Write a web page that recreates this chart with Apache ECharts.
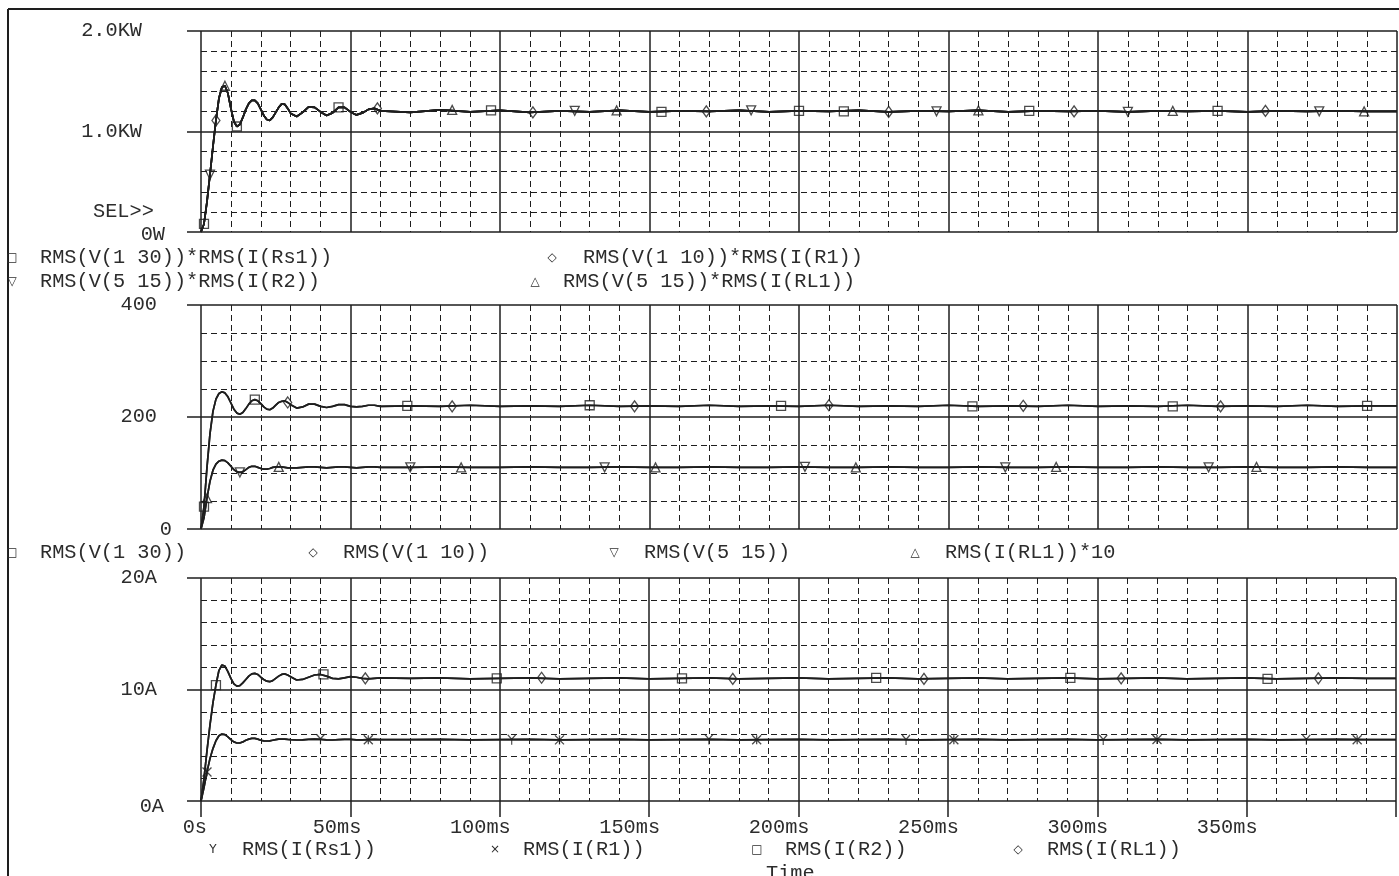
<!DOCTYPE html>
<html lang="en">
<head>
<meta charset="UTF-8">
<title>RMS power, voltage and current</title>
<script src="https://cdn.jsdelivr.net/npm/echarts@6/dist/echarts.min.js"></script>
<style>
  html, body { margin: 0; padding: 0; background: #fff; }
  #main { width: 1399px; height: 876px; }
</style>
</head>
<body>
<div id="main"></div>
<script>
// ---- data ----
// time in ms
const timeMs = [
  0, 1, 2, 3, 4, 5, 6, 7, 8, 9, 10, 11, 12, 13, 14, 15, 16, 17, 18, 19, 20,
  21, 22, 23, 24, 25, 26, 27, 28, 29, 30,
  32, 34, 36, 38, 40, 42, 44, 46, 48, 50, 52, 54, 56, 58, 60,
  70, 80, 90, 100, 110, 120, 130, 140, 150, 160, 170, 180, 190, 200, 210, 220,
  230, 240, 250, 260, 270, 280, 290, 300, 310, 320, 330, 340, 350, 360, 370,
  380, 390, 400
];

// top panel: the four power traces lie on top of each other (W)
const powerW = [
  0, 80, 300, 570, 850, 1110, 1330, 1440, 1455, 1380, 1230, 1100, 1050, 1070,
  1140, 1220, 1280, 1310, 1310, 1280, 1220, 1160, 1120, 1110, 1140, 1190, 1240,
  1275, 1270, 1230, 1180,
  1150, 1190, 1245, 1240, 1195, 1160, 1185, 1240, 1240, 1195, 1165, 1185, 1220, 1230, 1205,
  1190, 1215, 1195, 1210, 1190, 1205, 1195, 1210, 1195, 1205, 1200, 1210, 1195,
  1205, 1200, 1210, 1195, 1205, 1200, 1210, 1195, 1205, 1200, 1205, 1195, 1205,
  1200, 1205, 1195, 1205, 1200, 1205, 1200, 1200
];

// middle panel (V)
const vHigh = [
  0, 40, 110, 170, 210, 232, 242, 245, 243, 236, 225, 214, 207, 205, 208, 215,
  223, 229, 231, 229, 224, 218, 214, 213, 216, 221, 226, 228, 229, 226, 222,
  216, 218, 223, 223, 219, 217, 219, 222, 222, 219, 218, 219, 221, 221, 219,
  220, 219, 221, 219, 220, 219, 221, 219, 220, 219, 221, 219, 220, 219, 221,
  219, 220, 219, 221, 219, 220, 219, 221, 219, 220, 219, 221, 219, 220, 219,
  221, 219, 220, 220
];
const vLow = [
  0, 20, 55, 85, 105, 116, 121, 123, 122, 118, 112, 106, 102, 101, 102, 106,
  110, 112, 112, 110, 108, 107, 107, 108, 110, 111, 111, 111, 110, 109, 109,
  109, 110, 111, 111, 110, 109, 110, 111, 111, 110, 109, 110, 111, 111, 110,
  110, 111, 110, 110, 111, 110, 110, 111, 110, 110, 111, 110, 110, 111, 110,
  110, 111, 110, 110, 111, 110, 110, 111, 110, 110, 111, 110, 110, 111, 110,
  110, 111, 110, 110
];

// bottom panel (A)
const iHigh = [
  0, 2.0, 4.5, 6.8, 8.8, 10.4, 11.7, 12.2, 12.1, 11.6, 11.0, 10.5, 10.3, 10.35,
  10.6, 10.9, 11.2, 11.4, 11.45, 11.35, 11.1, 10.9, 10.75, 10.7, 10.8, 11.0,
  11.2, 11.35, 11.4, 11.3, 11.15,
  10.85, 10.9, 11.1, 11.3, 11.35, 11.2, 11.0, 10.95, 11.05, 11.15, 11.1, 11.0, 10.95, 11.0, 11.05,
  11.0, 11.05, 10.95, 11.0, 11.05, 10.95, 11.0, 11.05, 10.95, 11.0, 11.05, 10.95,
  11.0, 11.05, 10.95, 11.0, 11.05, 10.95, 11.0, 11.05, 10.95, 11.0, 11.05, 10.95,
  11.0, 11.05, 10.95, 11.0, 11.05, 10.95, 11.0, 11.05, 11.0, 11.0
];
const iLow = [
  0, 1.2, 2.6, 3.8, 4.7, 5.4, 5.85, 6.0, 5.95, 5.75, 5.5, 5.3, 5.2, 5.2, 5.3,
  5.45, 5.55, 5.62, 5.62, 5.55, 5.45, 5.4, 5.38, 5.4, 5.45, 5.5, 5.55, 5.56,
  5.55, 5.52, 5.5,
  5.47, 5.48, 5.52, 5.55, 5.53, 5.49, 5.47, 5.5, 5.53, 5.52, 5.49, 5.48, 5.5, 5.52, 5.5,
  5.5, 5.52, 5.48, 5.5, 5.52, 5.48, 5.5, 5.52, 5.48, 5.5, 5.52, 5.48, 5.5, 5.52,
  5.48, 5.5, 5.52, 5.48, 5.5, 5.52, 5.48, 5.5, 5.52, 5.48, 5.5, 5.52, 5.48, 5.5,
  5.52, 5.48, 5.5, 5.52, 5.5, 5.5
];

// marker times (ms) for each trace
const mkTopSq = [1, 12, 46, 97, 154, 200, 215, 277, 340];
const mkTopDia = [5, 59, 111, 169, 230, 292, 356];
const mkTopDn = [3, 125, 184, 246, 310, 374];
const mkTopUp = [8, 84, 139, 260, 325, 389];
const mkMidSq = [1, 18, 69, 130, 194, 258, 325, 390];
const mkMidDia = [29, 84, 145, 210, 275, 341];
const mkMidDn = [13, 70, 135, 202, 269, 337];
const mkMidUp = [2, 26, 87, 152, 219, 286, 353];
const mkBotSq = [5, 41, 99, 161, 226, 291, 357];
const mkBotDia = [55, 114, 178, 242, 308, 374];
const mkBotY = [40, 104, 170, 236, 302, 370];
const mkBotX = [2, 56, 120, 186, 252, 320, 387];

// names and tick labels
const topNames = ['RMS(V(1 30))*RMS(I(Rs1))', 'RMS(V(1 10))*RMS(I(R1))',
  'RMS(V(5 15))*RMS(I(R2))', 'RMS(V(5 15))*RMS(I(RL1))'];
const midNames = ['RMS(V(1 30))', 'RMS(V(1 10))', 'RMS(V(5 15))', 'RMS(I(RL1))*10'];
const botNames = ['RMS(I(Rs1))', 'RMS(I(R1))', 'RMS(I(R2))', 'RMS(I(RL1))'];
const topTicks = ['0W', '1.0KW', '2.0KW'];
const midTicks = ['0', '200', '400'];
const botTicks = ['0A', '10A', '20A'];
const timeTicks = ['0s', '50ms', '100ms', '150ms', '200ms', '250ms', '300ms', '350ms', ''];

// ---- chart ----
const FONT = '"Liberation Mono", "DejaVu Sans Mono", monospace';
const FS = 20.3;
const INK = '#1e1e1e';
const TXT = '#2c2c2c';

const chart = echarts.init(document.getElementById('main'));

function pairs(vals) {
  return timeMs.map((t, i) => [t, vals[i]]);
}
function nearest(t) {
  let best = 0;
  timeMs.forEach((x, i) => { if (Math.abs(x - t) < Math.abs(timeMs[best] - t)) best = i; });
  return best;
}

const SYM = {
  sq: { symbol: 'rect', symbolSize: 9 },
  dia: { symbol: 'diamond', symbolSize: [8, 11] },
  dn: { symbol: 'triangle', symbolSize: 9, symbolRotate: 180 },
  up: { symbol: 'triangle', symbolSize: 9 },
  y: { symbol: 'path://M0,0L5,5L10,0M5,5L5,11', symbolSize: [8, 10] },
  x: { symbol: 'path://M0,0L10,10M10,0L0,10M5,0L5,10', symbolSize: 9 }
};

const series = [];
function addTrace(name, vals, marks, sym, g) {
  series.push({
    name: name, type: 'line', xAxisIndex: g, yAxisIndex: g,
    data: pairs(vals), showSymbol: false, symbol: 'none',
    lineStyle: { color: INK, width: 1.7 }, animation: false, silent: true
  });
  series.push(Object.assign({
    name: name, type: 'scatter', xAxisIndex: g, yAxisIndex: g,
    data: marks.map(t => [t, vals[nearest(t)]]),
    itemStyle: { color: 'rgba(0,0,0,0)', borderColor: INK, borderWidth: 1.3 },
    animation: false, silent: true
  }, SYM[sym]));
}

addTrace(topNames[0], powerW, mkTopSq, 'sq', 0);
addTrace(topNames[1], powerW, mkTopDia, 'dia', 0);
addTrace(topNames[2], powerW, mkTopDn, 'dn', 0);
addTrace(topNames[3], powerW, mkTopUp, 'up', 0);
addTrace(midNames[0], vHigh, mkMidSq, 'sq', 1);
addTrace(midNames[1], vHigh, mkMidDia, 'dia', 1);
addTrace(midNames[2], vLow, mkMidDn, 'dn', 1);
addTrace(midNames[3], vLow, mkMidUp, 'up', 1);
addTrace(botNames[0], iLow, mkBotY, 'y', 2);
addTrace(botNames[1], iLow, mkBotX, 'x', 2);
addTrace(botNames[2], iHigh, mkBotSq, 'sq', 2);
addTrace(botNames[3], iHigh, mkBotDia, 'dia', 2);

const minorStyle = { color: INK, width: 1, type: [6, 4] };
const majorStyle = { color: INK, width: 1.5 };

function xAxisFor(g) {
  const last = g === 2;
  return {
    type: 'value', gridIndex: g, min: 0, max: 400, interval: 50,
    axisLine: { show: false },
    axisTick: { show: last, length: 16, lineStyle: majorStyle },
    axisLabel: {
      show: last, margin: 17, align: 'right',
      fontFamily: FONT, fontSize: FS, color: TXT,
      formatter: v => {
        const s = timeTicks[Math.round(v / 50)];
        return s ? (v === 0 ? '{z|' + s + '}' : '{m|' + s + '}') : '';
      },
      rich: {
        z: { fontFamily: FONT, fontSize: FS, color: TXT, padding: [0, -6, 0, 0] },
        m: { fontFamily: FONT, fontSize: FS, color: TXT, padding: [0, -11, 0, 0] }
      }
    },
    splitLine: { show: true, lineStyle: majorStyle },
    minorTick: { show: false, splitNumber: 5 },
    minorSplitLine: { show: true, lineStyle: minorStyle }
  };
}

function yAxisFor(g, max, interval, minor, ticks, margin, padMajor, padZeroTop) {
  return {
    type: 'value', gridIndex: g, min: 0, max: max, interval: interval,
    axisLine: { show: false },
    axisTick: { show: true, length: 14, lineStyle: majorStyle },
    axisLabel: {
      margin: margin, fontFamily: FONT, fontSize: FS, color: TXT,
      formatter: v => {
        const s = ticks[Math.round(v / interval)];
        return v === 0 ? '{z|' + s + '}' : '{m|' + s + '}';
      },
      rich: {
        z: { fontFamily: FONT, fontSize: FS, color: TXT, padding: [padZeroTop, 0, 0, 0] },
        m: { fontFamily: FONT, fontSize: FS, color: TXT, padding: [0, padMajor, 0, 0] }
      }
    },
    splitLine: { show: true, lineStyle: majorStyle },
    minorTick: { show: false, splitNumber: minor },
    minorSplitLine: { show: true, lineStyle: minorStyle }
  };
}

// frame, cursor text, axis title and legend rows
const graphics = [
  { type: 'line', shape: { x1: 8, y1: 9, x2: 1399, y2: 9 }, style: { stroke: INK, lineWidth: 2 } },
  { type: 'line', shape: { x1: 8, y1: 9, x2: 8, y2: 876 }, style: { stroke: INK, lineWidth: 2 } },
  { type: 'text', left: 93, top: 202, style: { text: 'SEL>>', font: FS + 'px ' + FONT, fill: TXT } },
  { type: 'text', left: 766, top: 864, style: { text: 'Time', font: FS + 'px ' + FONT, fill: TXT } }
];
function legendItem(sym, sx, name, tx, y) {
  graphics.push({ type: 'text', x: sx, y: y, style: { text: sym, font: '12px "DejaVu Sans"', fill: TXT, align: 'center', verticalAlign: 'middle' } });
  graphics.push({ type: 'text', x: tx, y: y, style: { text: name, font: FS + 'px ' + FONT, fill: TXT, align: 'left', verticalAlign: 'middle' } });
}
legendItem('\u25A1', 12, topNames[0], 40, 258);
legendItem('\u25C7', 552, topNames[1], 583, 258);
legendItem('\u25BD', 12, topNames[2], 40, 282);
legendItem('\u25B3', 535, topNames[3], 563, 282);
legendItem('\u25A1', 12, midNames[0], 40, 553);
legendItem('\u25C7', 313, midNames[1], 343, 553);
legendItem('\u25BD', 614, midNames[2], 644, 553);
legendItem('\u25B3', 915, midNames[3], 945, 553);
legendItem('Y', 213, botNames[0], 242, 850);
legendItem('\u00D7', 495, botNames[1], 523, 850);
legendItem('\u25A1', 757, botNames[2], 785, 850);
legendItem('\u25C7', 1018, botNames[3], 1047, 850);

const option = {
  backgroundColor: '#fff',
  animation: false,
  grid: [
    { left: 201, right: 2, top: 31, height: 201 },
    { left: 201, right: 2, top: 305, height: 224 },
    { left: 201, right: 2, top: 578, height: 223 }
  ],
  xAxis: [xAxisFor(0), xAxisFor(1), xAxisFor(2)],
  yAxis: [
    yAxisFor(0, 2000, 1000, 5, topTicks, 36, 23, 6),
    yAxisFor(1, 400, 200, 4, midTicks, 29, 15, 2),
    yAxisFor(2, 20, 10, 5, botTicks, 37, 7, 12)
  ],
  graphic: graphics,
  series: series
};

chart.setOption(option);
</script>
</body>
</html>
